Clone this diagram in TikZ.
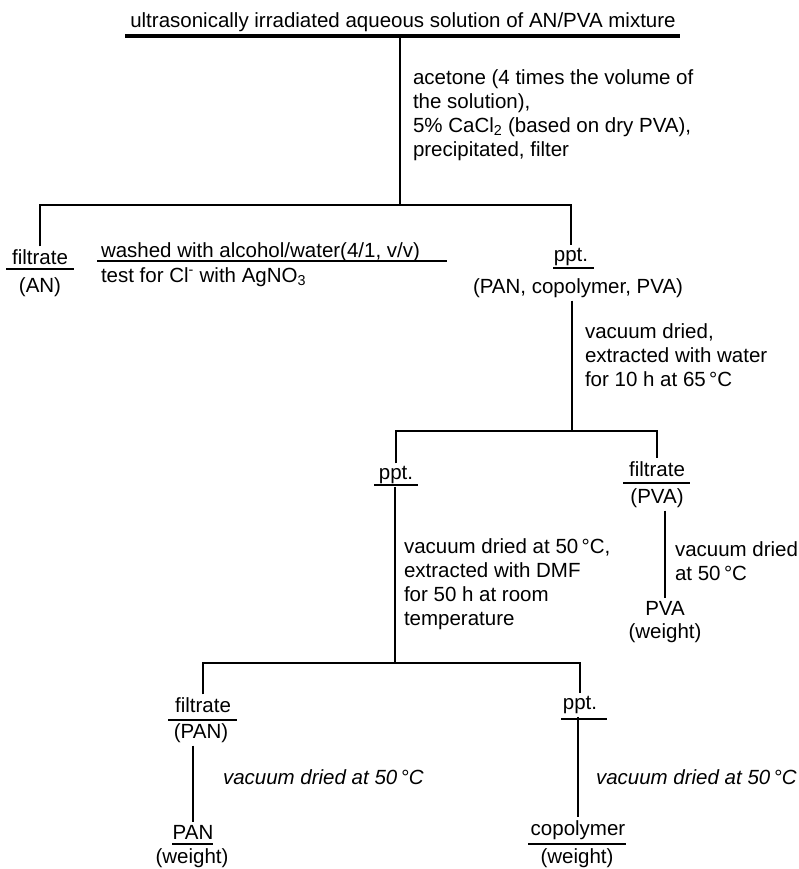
\documentclass[tikz,border=0pt]{standalone}
\usepackage{fontspec}
\setmainfont{Liberation Sans}
\usetikzlibrary{positioning}

\begin{document}
\begin{tikzpicture}[x=1pt, y=-1pt,
  lbl/.style={inner sep=0pt, outer sep=3pt, font=\fontsize{20.5}{24}\selectfont},
  note/.style={lbl, outer sep=0pt, anchor=west, align=left},
  dry/.style={note, font=\fontsize{20.5}{24}\selectfont\itshape},
  bar/.style={line width=2.5pt},
  link/.style={line width=2.5pt}]
 \useasboundingbox (0,0) rectangle (799,869);
 % starting solution
 \node[lbl] (src) at (403,22) {ultrasonically irradiated aqueous solution of AN/PVA mixture};
 \draw[bar, line width=3.2pt] (125,36) -- (680,36);
 \coordinate (srcbar) at (400,36);
 \coordinate (j1) at (400,205);
 \draw[link] (srcbar) -- (j1);
 \node[note] (acet) at (413,115) {acetone (4 times the volume of\\the solution),\\5\% CaCl\textsubscript{2} (based on dry PVA),\\precipitated, filter};
 % first split
 \node[lbl] (filtA) at (40,257) {filtrate};
 \draw[bar] (6,269) -- (74,269);
 \node[lbl] (AN) at (40,287) {(AN)};
 \node[note] (wash) at (101,252) {washed with alcohol/water(4/1, v/v)};
 \draw[bar] (97,261) -- (447,261);
 \node[note] (test) at (101,277) {test for Cl\textsuperscript{-} with AgNO\textsubscript{3}};
 \node[lbl] (pptA) at (571,257) {ppt.};
 \draw[bar] (553,268) -- (594,268);
 \node[lbl] (mixA) at (578,288) {(PAN, copolymer, PVA)};
 \draw[link] (filtA.north) |- (j1) -| (pptA.north);
 % water extraction
 \coordinate (j2) at (572,431);
 \draw[link] (mixA.south -| j2) -- (j2);
 \node[note] (wat) at (585,355) {vacuum dried,\\extracted with water\\for 10 h at 65\,°C};
 \node[lbl] (pptB) at (396,475) {ppt.};
 \draw[bar] (374,485) -- (418,485);
 \node[lbl] (filtB) at (657,469) {filtrate};
 \draw[bar] (623,483) -- (690,483);
 \node[lbl] (PVAf) at (657,498) {(PVA)};
 \draw[link] (pptB.north) |- (j2) -| (filtB.north);
 % PVA
 \node[lbl] (PVA) at (665,608) {PVA};
 \node[lbl] (PVAw) at (665,633) {(weight)};
 \draw[link] (PVAf.south -| PVA.north) -- (PVA.north);
 \node[note] (pvadry) at (675,561) {vacuum dried\\at 50\,°C};
 % DMF extraction
 \coordinate (j3) at (395,663);
 \draw[link] (pptB.south -| j3) -- (j3);
 \node[note] (dmf) at (404,584) {vacuum dried at 50\,°C,\\extracted with DMF\\for 50 h at room\\temperature};
 \node[lbl] (filtC) at (203,705) {filtrate};
 \draw[bar] (168,720) -- (237,720);
 \node[lbl] (PANf) at (201,733) {(PAN)};
 \node[lbl] (pptC) at (580,705) {ppt.};
 \draw[bar] (561,719) -- (607,719);
 \draw[link] (filtC.north) |- (j3) -| (pptC.north);
 % products
 \node[lbl] (PAN) at (193,832) {PAN};
 \draw[bar] (172,844) -- (213,844);
 \node[lbl] (PANw) at (192,858) {(weight)};
 \draw[link] (PANf.south -| PAN.north) -- (PAN.north);
 \node[dry] (pandry) at (223,777) {vacuum dried at 50\,°C};
 \node[lbl] (copo) at (578,830) {copolymer};
 \draw[bar] (528,844) -- (626,844);
 \node[lbl] (copow) at (577,858) {(weight)};
 \draw[link] (pptC.south -| copo.north) -- (copo.north);
 \node[dry] (copodry) at (596,777) {vacuum dried at 50\,°C};
\end{tikzpicture}
\end{document}
